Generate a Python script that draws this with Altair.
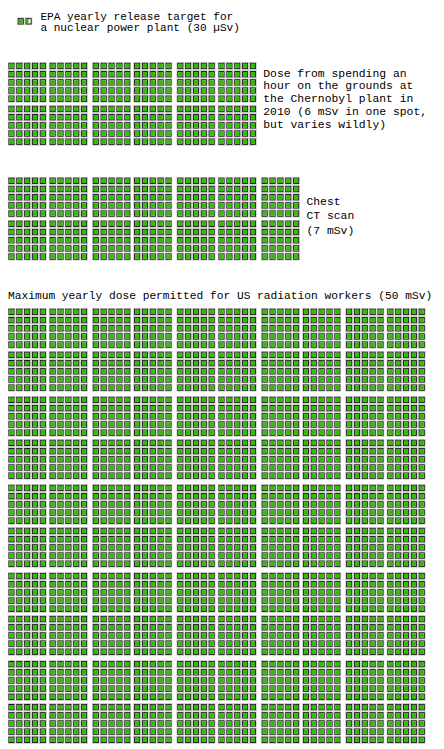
import math
import altair as alt
import pandas as pd

# ---- data ----
labels = [
    "EPA yearly release target for\na nuclear power plant (30 µSv)",
    "Dose from spending an\nhour on the grounds at\nthe Chernobyl plant in\n2010 (6 mSv in one spot,\nbut varies wildly)",
    "Chest\nCT scan\n(7 mSv)",
    "Maximum yearly dose permitted for US radiation workers (50 mSv)",
]
doses_usv = [30, 6000, 7000, 50000]
usv_per_square = 20
columns_per_block = [2, 30, 35, 50]

# ---- layout (page pixels) ----
PITCH = 8.0
VS = 1.043          # vertical stretch of the grid
W, H = 436, 741
block_left_px = [18, 8.5, 8.5, 8.5]
block_top_px = [11.5, 57, 174, 307.5]
label_x_px = [41, 268, 312, 8]
label_y_px = [10, 68, 198.5, 295]   # centre of first line
label_line_h = [11, 13, 15, 12]
label_size = [11.3, 11.6, 11.6, 11.45]


def grid_offset(k):
    # 8px pitch, +2px between groups of 5, +4px between groups of 10
    return PITCH * k + 2 * (k // 5 - k // 10) + 4 * (k // 10)


def u(px):
    return (px - 8) / PITCH


rows = []
for b, dose in enumerate(doses_usv):
    n = dose / usv_per_square
    ncol = columns_per_block[b]
    for i in range(math.ceil(n)):
        frac = min(1.0, n - i)
        c, r = i % ncol, i // ncol
        left = block_left_px[b] + grid_offset(c)
        top = block_top_px[b] + grid_offset(r) * VS
        h = 6 * VS
        rows.append(dict(
            hx=u(left - 0.8), hx2=u(left + 6.8), hy=u(top - 0.8), hy2=u(top + h + 0.8),
            dx=u(left), dx2=u(left + 6), dy=u(top), dy2=u(top + h),
            ix=u(left + 0.9), ix2=u(left + 5.1), iy=u(top + 0.9), iy2=u(top + h - 0.9),
            gx2=u(left + 0.9 + 4.2 * frac),
        ))
cells = pd.DataFrame(rows)

lab = pd.DataFrame(dict(
    text=labels,
    x=[u(v) for v in label_x_px],
    y=[u(v) for v in label_y_px],
))

xs = alt.Scale(domain=[0, W / PITCH], nice=False, zero=False)
ys = alt.Scale(domain=[0, H / PITCH], reverse=True, nice=False, zero=False)
X = lambda f: alt.X(f, type="quantitative", scale=xs, axis=None)
Y = lambda f: alt.Y(f, type="quantitative", scale=ys, axis=None)

base = alt.Chart(cells)
halo = base.mark_rect(color="#b4b4b4", opacity=0.85).encode(
    x=X("hx"), x2="hx2", y=Y("hy"), y2="hy2")
dark = base.mark_rect(color="#161616").encode(
    x=X("dx"), x2="dx2", y=Y("dy"), y2="dy2")
white = base.mark_rect(color="#ffffff").encode(
    x=X("ix"), x2="ix2", y=Y("iy"), y2="iy2")
green = base.mark_rect(color="#30bd00").encode(
    x=X("ix"), x2="gx2", y=Y("iy"), y2="iy2")

texts = []
for i in range(len(labels)):
    texts.append(
        alt.Chart(lab.iloc[[i]]).mark_text(
            align="left", baseline="middle", font="Liberation Mono",
            fontSize=label_size[i], lineBreak="\n", lineHeight=label_line_h[i], color="#000000",
        ).encode(x=X("x"), y=Y("y"), text="text:N")
    )

chart = alt.layer(halo, dark, white, green, *texts).properties(
    width=W, height=H, padding=0,
    autosize=alt.AutoSizeParams(type="none"),
).configure_view(stroke=None)

chart.save("out.html", embed_options={"renderer": "svg", "actions": False})
